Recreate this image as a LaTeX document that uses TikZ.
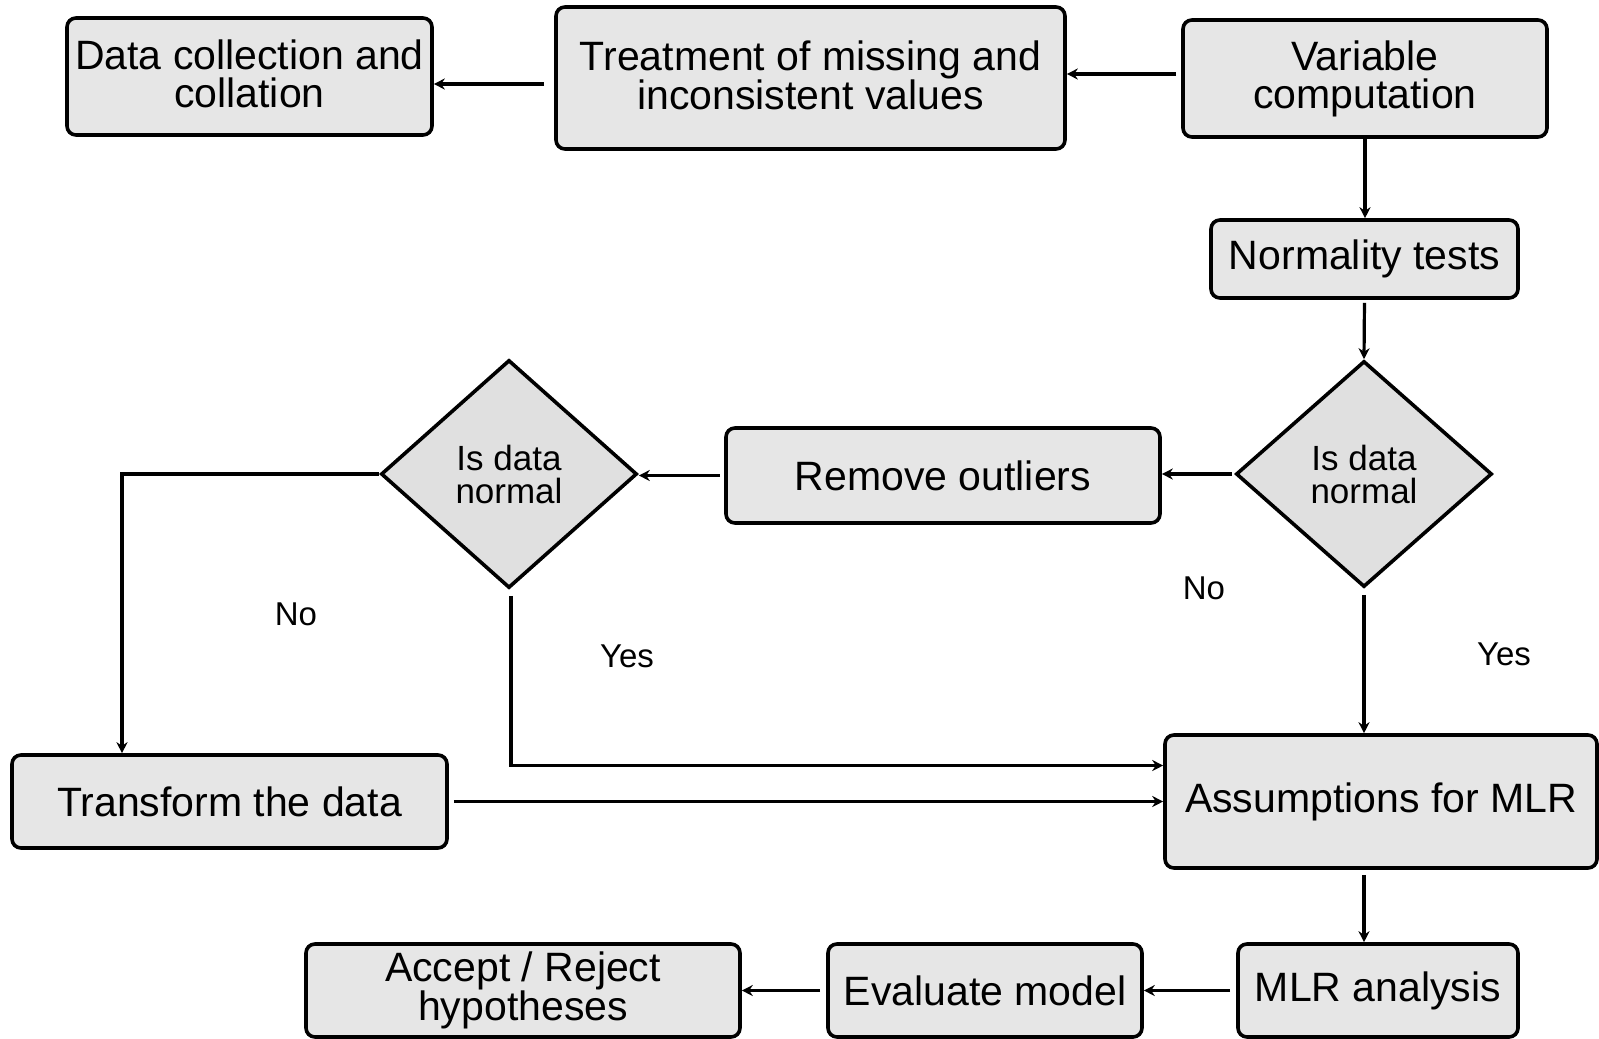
\documentclass[tikz,border=0pt]{standalone}
\usepackage{fontspec}
\setmainfont{Liberation Sans}
\usetikzlibrary{shapes.geometric,arrows.meta}
\definecolor{boxfill}{HTML}{E6E6E6}
\definecolor{dfill}{HTML}{E0E0E0}
\tikzset{
  box/.style={draw=black, line width=3.6pt, fill=boxfill, rounded corners=9pt,
    align=center, inner sep=0pt, font=\fontsize{41}{38}\selectfont},
  dec/.style={draw=black, line width=3.6pt, fill=dfill, diamond, inner sep=0pt,
    align=center, font=\fontsize{35}{33}\selectfont},
  lbl/.style={font=\fontsize{33}{33}\selectfont, inner sep=0pt},
  arr/.style={line width=3.2pt, -{Stealth[length=11pt,width=11pt]}},
}
\begin{document}
\begin{tikzpicture}[x=1pt,y=-1pt]
\useasboundingbox (0,0) rectangle (1599,1039);
\node[box, minimum width=365pt, minimum height=117pt] (dc) at (249.5,76.5) {Data collection and\\collation\rule[-6pt]{0pt}{6pt}};
\node[box, minimum width=509pt, minimum height=142pt] (tr) at (810.5,78) {Treatment of missing and\\inconsistent values\rule[-6pt]{0pt}{6pt}};
\node[box, minimum width=364pt, minimum height=117pt] (var) at (1365,78.5) {Variable\\computation\rule[-6pt]{0pt}{6pt}};
\node[box, minimum width=307pt, minimum height=78pt] (nt) at (1364.5,259) {Normality tests};
\node[dec, minimum width=256pt, minimum height=226pt] (dR) at (1364,474) {Is data\\normal};
\node[box, minimum width=434pt, minimum height=95pt] (rm) at (943,475.5) {Remove outliers};
\node[dec, minimum width=256pt, minimum height=228pt] (dL) at (509,474) {Is data\\normal};
\node[box, minimum width=435pt, minimum height=93pt] (tf) at (229.5,801.5) {Transform the data};
\node[box, minimum width=432pt, minimum height=133pt] (as) at (1381,801.5) {Assumptions for MLR};
\node[box, minimum width=280pt, minimum height=93pt] (mlr) at (1378,990.5) {MLR analysis};
\node[box, minimum width=314pt, minimum height=93pt] (ev) at (985,990.5) {Evaluate model};
\node[box, minimum width=434pt, minimum height=93pt] (acc) at (523,990.5) {Accept / Reject\\hypotheses\rule[-6pt]{0pt}{6pt}};

\node[lbl] (no1) at (296,614) {No};
\node[lbl] (yes1) at (627,656) {Yes};
\node[lbl] (no2) at (1204,588) {No};
\node[lbl] (yes2) at (1504,654) {Yes};

\coordinate (c1) at (122,474);

\draw[arr, shorten <=10pt] ([yshift=-6pt]tr.west) -- ([yshift=-6pt]tr.west -| dc.east);
\draw[arr, shorten <=5pt] ([yshift=4.5pt]var.west) -- ([yshift=4.5pt]var.west -| tr.east);
\draw[arr] (var.south) -- (var.south |- nt.north);
\draw[arr, shorten <=3pt] (nt.south) -- (dR.north);
\draw[arr, shorten <=2pt] (dR.west) -- (dR.west -| rm.east);
\draw[arr, shorten <=4pt] (rm.west) -- (rm.west -| dL.east);
\draw[arr] (dL.west) -- (c1) -- (c1 |- tf.north);
\draw[arr, shorten <=6pt] ([xshift=2pt]dL.south) |- ([yshift=36pt]as.west);
\draw[arr, shorten <=5pt] (tf.east) -- (tf.east -| as.west);
\draw[arr, shorten <=6pt] (dR.south) -- (dR.south |- as.north);
\draw[arr, shorten <=5pt] (dR.south |- as.south) -- (dR.south |- mlr.north);
\draw[arr, shorten <=6pt] (mlr.west) -- (ev.east);
\draw[arr, shorten <=6pt] (ev.west) -- (acc.east);
\end{tikzpicture}
\end{document}
